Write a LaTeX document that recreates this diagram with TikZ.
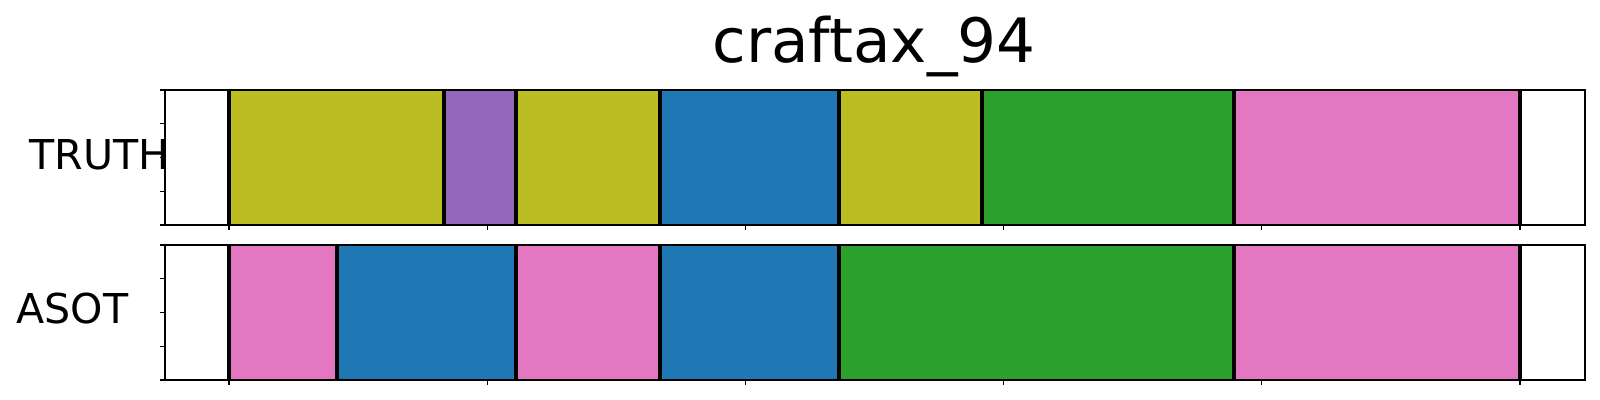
\documentclass[tikz,border=0pt]{standalone}
\usepackage{fontspec}
\setmainfont{DejaVu Sans}
\definecolor{tabolive}{HTML}{BCBD22}
\definecolor{tabpurple}{HTML}{9467BD}
\definecolor{tabblue}{HTML}{1F77B4}
\definecolor{tabgreen}{HTML}{2CA02C}
\definecolor{tabpink}{HTML}{E377C2}

\begin{document}
\begin{tikzpicture}[x=0.01cm, y=-0.01cm,
    frame/.style={line width=0.35pt},
    bound/.style={line width=1.35pt, black},
    tickmark/.style={line width=0.35pt},
    rowlabel/.style={anchor=base west, inner sep=0pt, font=\fontsize{11.7}{14}\selectfont}]
    % canvas (pixel units, y down)
    \useasboundingbox (0,0) rectangle (1600,400);

    % title
    \node[anchor=base, inner sep=0pt, font=\fontsize{17.4}{20}\selectfont] (title) at (874,62) {craftax\_94};

    % TRUTH row: segments
    \foreach \a/\b/\c in {229/444/tabolive, 444/516/tabpurple, 516/660/tabolive,
        660/839/tabblue, 839/982/tabolive, 982/1234/tabgreen, 1234/1520/tabpink}
        \fill[\c] (\a,90) rectangle (\b,225);
    \foreach \x in {229,444,516,660,839,982,1234,1520}
        \draw[bound] (\x,90) -- (\x,225);

    % ASOT row: segments
    \foreach \a/\b/\c in {229/337/tabpink, 337/516/tabblue, 516/660/tabpink,
        660/839/tabblue, 839/1234/tabgreen, 1234/1520/tabpink}
        \fill[\c] (\a,245) rectangle (\b,380);
    \foreach \x in {229,337,516,660,839,1234,1520}
        \draw[bound] (\x,245) -- (\x,380);

    % frames and ticks
    \foreach \top/\bot in {90/225, 245/380} {
        \draw[frame] (165,\top) rectangle (1585,\bot);
        \foreach \k in {0,...,4}
            \draw[tickmark] (165,{\top+33.75*\k}) -- ++(-4.9,0);
        \foreach \k in {0,...,5}
            \draw[tickmark] ({229+258.2*\k},\bot) -- ++(0,4.9);
    }

    % row labels
    \node[rowlabel] (truth) at (29,169) {TRUTH};
    \node[rowlabel] (asot) at (16,323) {ASOT};
\end{tikzpicture}
\end{document}
